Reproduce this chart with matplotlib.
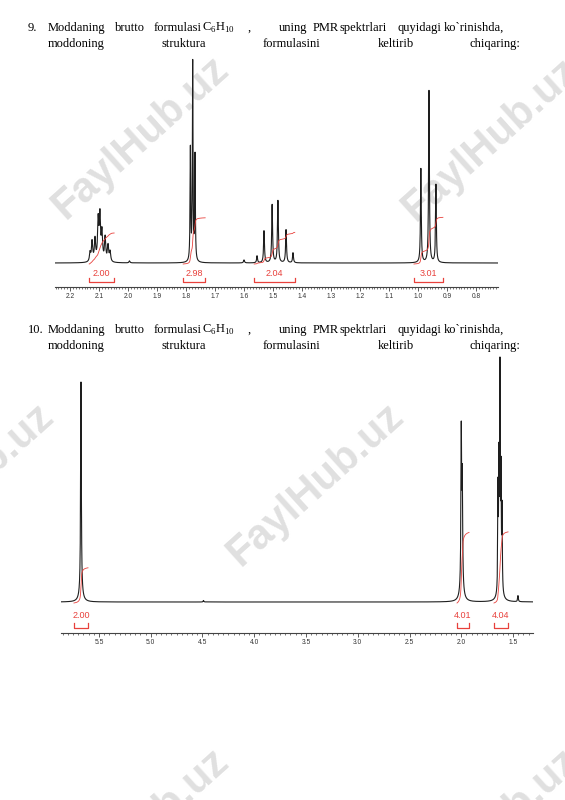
import numpy as np
import matplotlib
matplotlib.use('Agg')
import matplotlib.pyplot as plt
from matplotlib.ticker import MultipleLocator, FormatStrFormatter

plt.rcParams['mathtext.fontset'] = 'custom'
plt.rcParams['mathtext.rm'] = 'Liberation Serif'

W, H = 565, 800

# ---- spectrum 9 (C6H10, 2-hexyne) : line positions (ppm), heights (px), half widths (ppm)
s1_ppm = [2.131, 2.124, 2.114, 2.103, 2.097, 2.090, 2.079, 2.069, 2.062,
          1.785, 1.777, 1.769,
          1.555, 1.531, 1.503, 1.483, 1.455, 1.431,
          0.990, 0.962, 0.938,
          1.995, 1.600]
s1_height = [9, 20, 22, 40, 44, 28, 24, 16, 10,
             112, 198, 105,
             7, 32, 58, 62, 33, 10,
             94, 172, 78,
             2, 3]
s1_hwhm = [0.0025] * 9 + [0.0013] * 3 + [0.0018] * 6 + [0.0016] * 3 + [0.002, 0.002]
s1_ticks = [2.2, 2.1, 2.0, 1.9, 1.8, 1.7, 1.6, 1.5, 1.4, 1.3, 1.2, 1.1, 1.0, 0.9, 0.8]
s1_int_labels = ['2.00', '2.98', '2.04', '3.01']
s1_int_from = [2.134, 1.810, 1.565, 1.014]
s1_int_to = [2.048, 1.734, 1.425, 0.914]

# ---- spectrum 10 (C6H10, cyclohexene)
s2_ppm = [5.674, 5.674,
          2.000, 1.990, 1.995,
          1.626, 1.636, 1.616, 1.645, 1.606, 1.625,
          1.452, 4.49]
s2_height = [212, 8,
             155, 105, 12,
             210, 120, 108, 100, 80, 12,
             6, 1.5]
s2_hwhm = [0.004, 0.02,
           0.004, 0.004, 0.02,
           0.003, 0.003, 0.003, 0.003, 0.003, 0.02,
           0.004, 0.004]
s2_ticks = [5.5, 5.0, 4.5, 4.0, 3.5, 3.0, 2.5, 2.0, 1.5]
s2_int_labels = ['2.00', '4.01', '4.04']
s2_int_from = [5.742, 2.041, 1.684]
s2_int_to = [5.606, 1.925, 1.548]

line1_words = ['Moddaning', 'brutto', 'formulasi', r'C$_{6}$H$_{10}$', ',', 'uning', 'PMR',
               'spektrlari', 'quyidagi', 'ko`rinishda,']
line1_x = [48, 115, 154, 202, 248, 279, 313, 340, 397, 444]
line2_words = ['moddoning', 'struktura', 'formulasini', 'keltirib', 'chiqaring:']
line2_x = [48, 162, 263, 378, 470]

RED = '#e8413c'


def spectrum(x, pos, hgt, wid):
    y = np.zeros_like(x)
    for p, h, w in zip(pos, hgt, wid):
        y += h * w ** 2 / ((x - p) ** 2 + w ** 2)
    return y


def px_axes(fig, x0, x1, ytop, ybot):
    return fig.add_axes([x0 / W, 1 - ybot / H, (x1 - x0) / W, (ybot - ytop) / H])


def draw_spectrum(ax, xlim, ylim, pos, hgt, wid, ticks, major, minor,
                  labels, froms, tos, per_h, br_y, br_h, lab_y):
    x = np.linspace(xlim[1], xlim[0], 40000)
    y = spectrum(x, pos, hgt, wid)
    ax.plot(x, y, color='#1e1e1e', lw=0.8)
    for lab, a, b in zip(labels, froms, tos):
        m = (x >= b) & (x <= a)
        xs = x[m][::-1]
        ys = y[m][::-1]
        c = np.cumsum(ys)
        c = c / c[-1] * float(lab) * per_h
        ax.plot(xs, c - 1, color=RED, lw=0.6)
        ax.plot([a, a, b, b], [br_y + br_h, br_y, br_y, br_y + br_h], color=RED, lw=0.9)
        ax.text((a + b) / 2, lab_y, lab, color=RED, fontsize=6.5, ha='center',
                va='center', family='Liberation Sans')
    ax.set_xlim(*xlim)
    ax.set_ylim(*ylim)
    ax.patch.set_visible(False)
    for s in ['top', 'left', 'right']:
        ax.spines[s].set_visible(False)
    ax.spines['bottom'].set_color('#444444')
    ax.spines['bottom'].set_linewidth(0.8)
    ax.set_yticks([])
    ax.set_xticks(ticks)
    ax.xaxis.set_minor_locator(MultipleLocator(minor))
    ax.xaxis.set_major_formatter(FormatStrFormatter('%.1f'))
    ax.tick_params(axis='x', which='major', length=3, width=0.6, color='#444444',
                   labelsize=4.8, pad=1.5, labelcolor='#333333')
    ax.tick_params(axis='x', which='minor', length=1.6, width=0.5, color='#444444')
    for t in ax.get_xticklabels():
        t.set_family('Liberation Sans')


def header(fig, num, y1, y2):
    fig.text(28 / W, 1 - y1 / H, num, fontsize=9.0, family='Liberation Serif',
             va='center', ha='left')
    for w, xx in zip(line1_words, line1_x):
        fig.text(xx / W, 1 - y1 / H, w, fontsize=9.0, family='Liberation Serif',
                 va='center', ha='left')
    for w, xx in zip(line2_words, line2_x):
        fig.text(xx / W, 1 - y2 / H, w, fontsize=9.0, family='Liberation Serif',
                 va='center', ha='left')


fig = plt.figure(figsize=(W / 100, H / 100), dpi=100)
fig.patch.set_facecolor('white')

# watermarks
for cx, cy in [(140, 138), (490, 140), (-35, 485), (315, 485), (140, 830), (490, 830)]:
    fig.text(cx / W, 1 - cy / H, 'FaylHub.uz', rotation=42, ha='center', va='center',
             fontsize=30, fontweight='bold', color='#e0e0e0', family='Liberation Sans',
             zorder=-5)

header(fig, '9.', 28, 44)
header(fig, '10.', 330, 346)

ax1 = px_axes(fig, 55, 498, 50, 287)
draw_spectrum(ax1, (2.252, 0.724), (-24, 213), s1_ppm, s1_height, s1_hwhm,
              s1_ticks, 0.1, 0.01, s1_int_labels, s1_int_from, s1_int_to,
              15.5, -19, 4.5, -10)

ax2 = px_axes(fig, 61, 533, 330, 633)
draw_spectrum(ax2, (5.867, 1.307), (-31, 272), s2_ppm, s2_height, s2_hwhm,
              s2_ticks, 0.5, 0.05, s2_int_labels, s2_int_from, s2_int_to,
              17.6, -26, 5, -14)

fig.savefig('out.png', dpi=100, facecolor='white')
